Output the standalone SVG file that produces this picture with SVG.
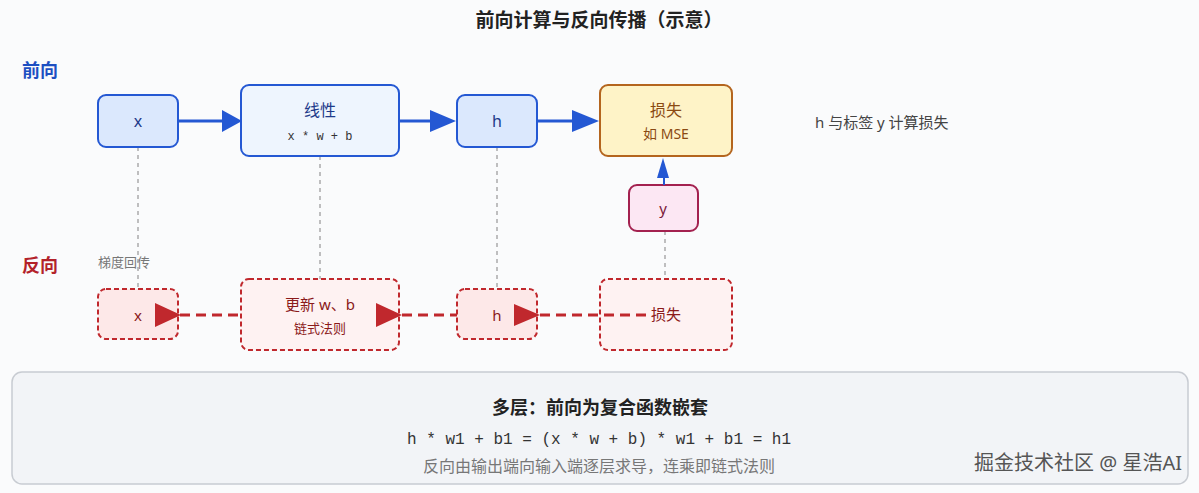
<svg xmlns="http://www.w3.org/2000/svg" width="1199" height="493" viewBox="0 0 1199 493">
<style>
text{font-family:"Noto Sans","Noto Sans CJK SC",sans-serif}
text.m{font-family:"Liberation Mono","Noto Sans CJK SC",monospace}
.f{stroke:#2458d3;stroke-width:2}
.b{fill:#fde8e8;stroke:#c0282d;stroke-width:2;stroke-dasharray:5,3}
.g{stroke:#aaa;stroke-width:1.5;stroke-dasharray:4,4;fill:none}
.c{text-anchor:middle}
</style>
<rect width="1199" height="493" fill="#fafbfc"/>
<text x="599" y="27" class="c" font-size="19" font-weight="bold" fill="#222">前向计算与反向传播（示意）</text>
<text x="22" y="77" font-size="18" font-weight="bold" fill="#1d4fc2">前向</text>
<text x="22" y="272" font-size="18" font-weight="bold" fill="#b3222a">反向</text>
<text x="98" y="267" font-size="13" fill="#777">梯度回传</text>
<text x="815" y="128" font-size="15" fill="#444">h 与标签 y 计算损失</text>
<g id="guides">
<path class="g" d="M138 147V289M320 156V279M497 147V289M665 231V279"/>
</g>
<g id="x"><rect x="98" y="95" width="80" height="52" rx="8" fill="#dbe8fd" class="f"/><text x="138" y="127" class="c" font-size="16" fill="#1e3a8a">x</text></g>
<g id="linear"><rect x="241" y="85" width="158" height="71" rx="8" fill="#eef5fe" class="f"/><text x="320" y="116" class="c" font-size="16" fill="#1e3a8a">线性</text><text x="320" y="140" class="c m" font-size="12" fill="#333">x * w + b</text></g>
<g id="h"><rect x="457" y="95" width="80" height="52" rx="8" fill="#dbe8fd" class="f"/><text x="497" y="127" class="c" font-size="16" fill="#1e3a8a">h</text></g>
<g id="loss"><rect x="600" y="85" width="132" height="71" rx="8" fill="#fef3c7" stroke="#b4651e" stroke-width="2"/><text x="666" y="116" class="c" font-size="16" fill="#8a4a12">损失</text><text x="666" y="139" class="c" font-size="14" fill="#8a4a12">如 MSE</text></g>
<g id="y"><rect x="629" y="185" width="69" height="46" rx="8" fill="#fce7f3" stroke="#a3214f" stroke-width="2"/><text x="663" y="214" class="c" font-size="15" fill="#7a1a3a">y</text></g>
<g id="bx"><rect x="98" y="289" width="80" height="50" rx="8" class="b"/><text x="138" y="321" class="c" font-size="15" fill="#8b1a1a">x</text></g>
<g id="bupd"><rect x="241" y="279" width="158" height="71" rx="8" class="b" style="fill:#fef2f2"/><text x="320" y="310" class="c" font-size="15" fill="#8b1a1a">更新 w、b</text><text x="320" y="333" class="c" font-size="13" fill="#8b1a1a">链式法则</text></g>
<g id="bh"><rect x="457" y="289" width="80" height="50" rx="8" class="b"/><text x="497" y="321" class="c" font-size="15" fill="#8b1a1a">h</text></g>
<g id="bloss"><rect x="600" y="279" width="132" height="71" rx="8" class="b" style="fill:#fef2f2"/><text x="666" y="320" class="c" font-size="15" fill="#8b1a1a">损失</text></g>
<g id="connectors">
<path d="M178 121H222M399 121H440M537 121H582" stroke="#2458d3" stroke-width="3"/>
<path d="M222 110L242 121L222 132ZM430 110L456 121L430 132ZM572 110L599 121L572 132Z" fill="#2458d3"/>
<path d="M664 185V172" stroke="#2458d3" stroke-width="2"/>
<path d="M657 178L663 158L669 178Z" fill="#2458d3"/>
<path d="M180 315H240M402 315H457M540 315H650" stroke="#c0282d" stroke-width="3" stroke-dasharray="10,6"/>
<path d="M155 303L181 315L155 327ZM376 303L402 315L376 327ZM514 304L540 315L514 326Z" fill="#c0282d"/>
</g>
<g id="panel"><rect x="12" y="372" width="1176" height="112" rx="10" fill="#f2f4f7" stroke="#c8ccd2" stroke-width="1.5"/>
<text x="600" y="414" class="c" font-size="18" font-weight="bold" fill="#222">多层：前向为复合函数嵌套</text>
<text x="599" y="444" class="c m" font-size="16" fill="#333">h * w1 + b1 = (x * w + b) * w1 + b1 = h1</text>
<text x="599" y="472" class="c" font-size="16" fill="#777">反向由输出端向输入端逐层求导，连乘即链式法则</text></g>
<text x="1182" y="470" text-anchor="end" font-size="20" fill="#555">掘金技术社区 @ 星浩AI</text>
</svg>
